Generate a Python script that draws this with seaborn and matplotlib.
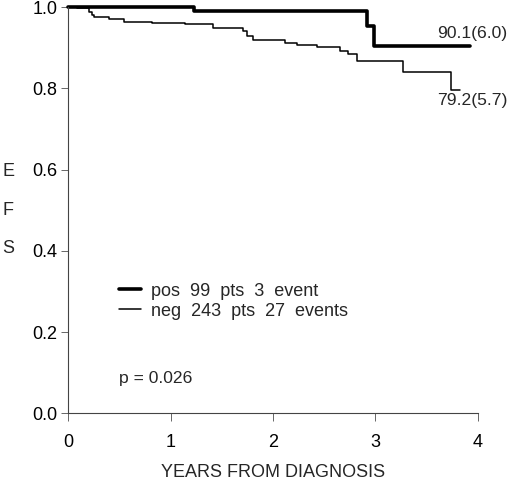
import pandas as pd
import matplotlib
matplotlib.use("Agg")
import matplotlib.pyplot as plt
import seaborn as sns
from matplotlib.lines import Line2D

# EFS curves (step starts: years, survival fraction)
pos_years = [0.0, 1.224, 2.918, 2.988, 3.92]
pos_efs = [1.0, 0.990, 0.953, 0.903, 0.903]

neg_years = [0.0, 0.085, 0.20, 0.23, 0.25, 0.40, 0.545, 0.82, 1.14, 1.41, 1.71,
             1.745, 1.805, 2.12, 2.235, 2.43, 2.655, 2.733, 2.82, 3.27, 3.74, 3.83]
neg_efs = [1.0, 0.997, 0.988, 0.980, 0.976, 0.970, 0.964, 0.960, 0.957, 0.948, 0.942,
           0.929, 0.919, 0.912, 0.906, 0.901, 0.892, 0.884, 0.867, 0.841, 0.795, 0.795]

legend_labels = ["pos  99  pts  3  event", "neg  243  pts  27  events"]
end_labels = ["90.1(6.0)", "79.2(5.7)"]
p_value = "p = 0.026"

sns.set_theme(style="ticks")
plt.rcParams["font.family"] = ["Liberation Sans", "DejaVu Sans"]

df_pos = pd.DataFrame({"years": pos_years, "efs": pos_efs})
df_neg = pd.DataFrame({"years": neg_years, "efs": neg_efs})

fig = plt.figure(figsize=(5.2, 4.83), dpi=100)
ax = fig.add_axes([0.1313, 0.1443, 0.7874, 0.8412])

sns.lineplot(data=df_neg, x="years", y="efs", ax=ax, color="black", linewidth=1.1,
             drawstyle="steps-post", estimator=None, clip_on=False)
sns.lineplot(data=df_pos, x="years", y="efs", ax=ax, color="black", linewidth=2.6,
             drawstyle="steps-post", estimator=None, clip_on=False)

ax.set_xlim(0, 4)
ax.set_ylim(0, 1)
ax.set_xticks([0, 1, 2, 3, 4])
ax.set_yticks([0.0, 0.2, 0.4, 0.6, 0.8, 1.0])
ax.set_yticklabels(["0.0", "0.2", "0.4", "0.6", "0.8", "1.0"])
sns.despine(ax=ax)
for side in ["left", "bottom"]:
    ax.spines[side].set_color("#444444")
    ax.spines[side].set_linewidth(0.8)

ax.tick_params(axis="y", direction="out", length=5, width=0.7, color="#666666",
               pad=3, labelsize=13, labelcolor="black")
ax.tick_params(axis="x", direction="out", length=6, width=0.7, color="#666666",
               pad=9, labelsize=13, labelcolor="black")

ax.set_xlabel("YEARS FROM DIAGNOSIS", fontsize=13, labelpad=9)
ax.set_ylabel("E\nF\nS", rotation=0, fontsize=13, linespacing=2.68, va="center", ha="center")
ax.yaxis.set_label_coords(-0.146, 0.5)

ax.text(3.605, 0.935, end_labels[0], fontsize=12.6, va="center", ha="left")
ax.text(3.605, 0.770, end_labels[1], fontsize=12.6, va="center", ha="left")
ax.text(0.50, 0.086, p_value, fontsize=12.6, va="center", ha="left")

handles = [Line2D([], [], color="black", linewidth=2.6),
           Line2D([], [], color="black", linewidth=1.1)]
ax.legend(handles, legend_labels, loc="center left", bbox_to_anchor=(0.50, 0.276),
          bbox_transform=ax.transData, frameon=False, fontsize=13, borderpad=0,
          borderaxespad=0, handlelength=1.17, handletextpad=0.6, labelspacing=0.17)

plt.savefig("out.png", dpi=100)
plt.close()
